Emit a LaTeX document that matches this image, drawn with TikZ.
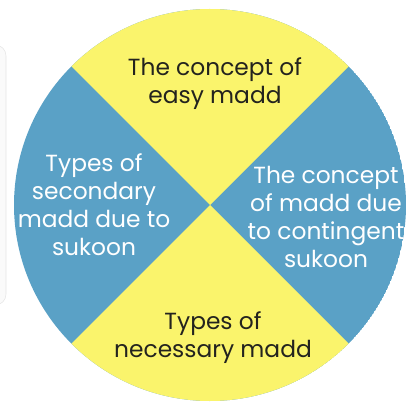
\documentclass[tikz,border=0pt]{standalone}
\usepackage{fontspec}
\setmainfont{Poppins}
\usetikzlibrary{positioning}
\definecolor{maddyellow}{RGB}{250,244,108}
\definecolor{maddblue}{RGB}{90,161,198}
\definecolor{maddtext}{RGB}{35,35,30}

\begin{document}
\begin{tikzpicture}[x=0.75pt, y=-0.75pt,
    every node/.style={font=\fontsize{17.5}{21}\selectfont, align=center, inner sep=0pt},
    onyellow/.style={text=maddtext},
    onblue/.style={text=white}]
    \useasboundingbox (0,0) rectangle (408,409);
    % grey panel cut by the left edge
    \begin{scope}
      \clip (0,0) rectangle (408,409);
      \draw[gray!20, fill=gray!4, rounded corners=8pt] (-30,45) rectangle (6,305);
    \end{scope}
    % the disc: blue sides, yellow top and bottom
    \coordinate (c) at (210,205);
    \begin{scope}
      \clip (c) circle (196);
      \fill[maddblue] (c) circle (196);
      \fill[maddyellow] (c) -- ++(-230,-230) -- ++(460,0) -- cycle;
      \fill[maddyellow] (c) -- ++(-230,230) -- ++(460,0) -- cycle;
    \end{scope}
    \node[onyellow] (easy) at (215,84) {The concept of\\easy madd};
    \node[onblue] (secondary) at (94,205) {Types of\\secondary\\madd due to\\sukoon};
    \node[onblue] (contingent) at (326,217) {The concept\\of madd due\\to contingent\\sukoon};
    \node[onyellow] (necessary) at (213,338) {Types of\\necessary madd};
  \end{tikzpicture}
\end{document}
